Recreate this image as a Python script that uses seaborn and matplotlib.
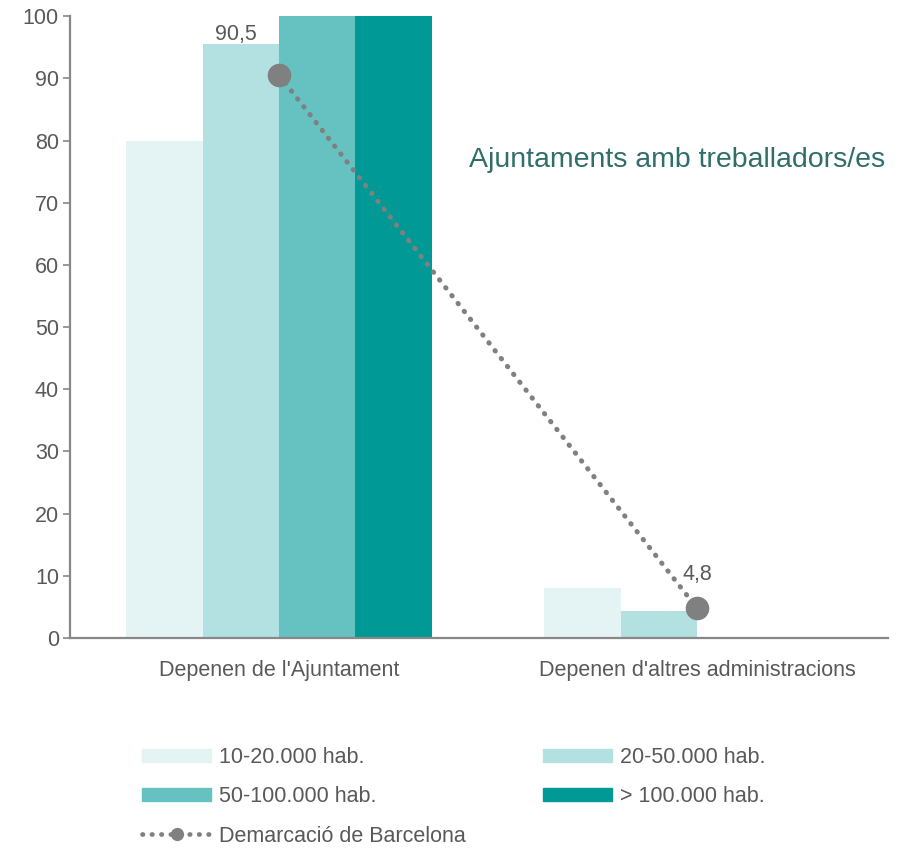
import matplotlib
matplotlib.use("Agg")
import matplotlib.pyplot as plt
import seaborn as sns
import pandas as pd
from matplotlib.lines import Line2D
from matplotlib.patches import Patch

categories = ["Depenen de l'Ajuntament", "Depenen d'altres administracions"]
sizes = ["10-20.000 hab.", "20-50.000 hab.", "50-100.000 hab.", "> 100.000 hab."]
values_10_20 = [80, 8]
values_20_50 = [95.5, 4.4]
values_50_100 = [100, 0]
values_100 = [100, 0]
barcelona = [90.5, 4.8]
barcelona_labels = ["90,5", "4,8"]
colors = ["#e4f4f4", "#b3e0e0", "#66c2c1", "#009996"]

sns.set_theme(style="white")
plt.rcParams['font.family'] = ['Liberation Sans', 'DejaVu Sans']

TXT = "#595959"
FS = 15.5

rows = []
for s, vals in zip(sizes, [values_10_20, values_20_50, values_50_100, values_100]):
    for c, v in zip(categories, vals):
        rows.append({"cat": c, "size": s, "val": v})
df = pd.DataFrame(rows)

fig = plt.figure(figsize=(9, 8.49), dpi=100)
ax = fig.add_axes([0.0778, 0.2485, 0.909, 0.7325])

sns.barplot(data=df, x="cat", y="val", hue="size", hue_order=sizes,
            palette=colors, width=0.73, gap=0, saturation=1, linewidth=0,
            legend=False, ax=ax)

pdf = pd.DataFrame({"cat": categories, "val": barcelona})
sns.pointplot(data=pdf, x="cat", y="val", color="#808080", markers="o",
              linestyles=":", ax=ax, errorbar=None)
for ln in ax.lines:
    ln.set_linewidth(3.6)
    ln.set_dashes((0.1, 1.9))
    ln.set_dash_capstyle("round")
    ln.set_markersize(17)
    ln.set_markeredgewidth(0)
    ln.set_markerfacecolor("#808080")
    ln.set_zorder(5)
for coll in ax.collections:
    coll.set_sizes([300])
    coll.set_edgecolor("none")
    coll.set_facecolor("#808080")
    coll.set_zorder(6)

ax.annotate(barcelona_labels[0], (0, barcelona[0]), xytext=(-31, 29),
            textcoords="offset points", ha="center", va="center",
            fontsize=FS, color=TXT)
ax.annotate(barcelona_labels[1], (1, barcelona[1]), xytext=(0, 24.5),
            textcoords="offset points", ha="center", va="center",
            fontsize=FS, color=TXT)

ax.set_xlim(-0.5, 1.457)
ax.set_ylim(0, 100)
ax.set_yticks(range(0, 101, 10))
ax.set_xlabel("")
ax.set_ylabel("")
for sp in ["top", "right"]:
    ax.spines[sp].set_visible(False)
for sp in ["left", "bottom"]:
    ax.spines[sp].set_color("#888888")
    ax.spines[sp].set_linewidth(1.6)
ax.tick_params(axis="y", left=True, length=5, width=1.2, color="#888888",
               labelsize=FS, labelcolor=TXT, pad=3)
ax.tick_params(axis="x", bottom=False, labelsize=FS, labelcolor=TXT, pad=10)

ax.text(0.996, 0.768, "Ajuntaments amb treballadors/es", transform=ax.transAxes,
        ha="right", va="center", fontsize=20.5, color="#2e6e6b")

handles = [Patch(color=colors[0], label=sizes[0]),
           Patch(color=colors[2], label=sizes[2]),
           Line2D([0], [0], color="#808080", lw=3.4, dashes=(0.1, 1.9),
                  dash_capstyle="round", marker="o", markersize=9.5,
                  markeredgewidth=0, label="Demarcació de Barcelona"),
           Patch(color=colors[1], label=sizes[1]),
           Patch(color=colors[3], label=sizes[3])]
leg = fig.legend(handles=handles, ncol=2, loc="upper left",
                 bbox_to_anchor=(0.158, 0.1202), frameon=False,
                 fontsize=FS, handlelength=3.2, handleheight=0.55,
                 labelspacing=0.85, columnspacing=3.57, handletextpad=0.37,
                 labelcolor=TXT, borderpad=0, borderaxespad=0)

fig.savefig("out.png", dpi=100)
